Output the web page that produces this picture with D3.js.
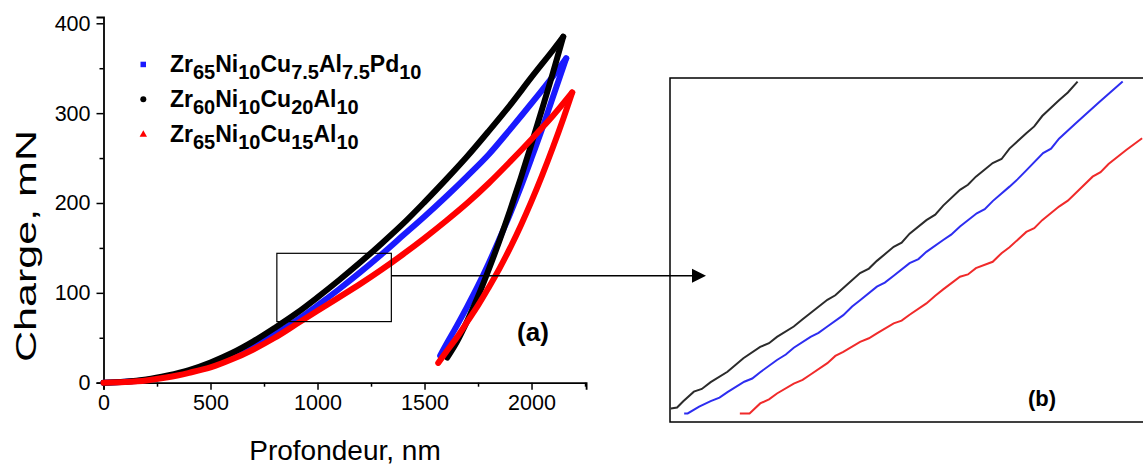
<!DOCTYPE html>
<html><head><meta charset="utf-8">
<script src="https://cdn.jsdelivr.net/npm/d3@7"></script>
<style>
body{margin:0;background:#fff}
svg{display:block}
text{font-family:"Liberation Sans",Arial,Helvetica,sans-serif}
</style>
</head><body>
<svg id="chart" width="1143" height="466"></svg>
<script>
// ---------- data (depth nm, load mN) ----------
const xTicks = [0, 500, 1000, 1500, 2000];
const yTicks = [0, 100, 200, 300, 400];
const xMinorTicks = [250, 750, 1250, 1750, 2250];
const yMinorTicks = [50, 150, 250, 350];

const seriesColors = ["#1a1aff", "#000000", "#ff0000"];
const legendLabels = [
  [["Zr",0],["65",1],["Ni",0],["10",1],["Cu",0],["7.5",1],["Al",0],["7.5",1],["Pd",0],["10",1]],
  [["Zr",0],["60",1],["Ni",0],["10",1],["Cu",0],["20",1],["Al",0],["10",1]],
  [["Zr",0],["65",1],["Ni",0],["10",1],["Cu",0],["15",1],["Al",0],["10",1]]
];

const blueLoading = [[0,0],[100,1],[200,3],[300,7],[400,12.5],[500,20],[600,29.5],[700,41],[800,54],[900,69],[1000,86],[1100,104],[1200,123],[1300,143],[1400,164],[1500,185],[1600,207],[1700,230],[1800,254],[1900,282],[2000,311],[2100,341],[2162,361]];
const blueUnloading = [[2162,361],[2100,318],[2050,283],[2000,250],[1950,218],[1900,188],[1850,160],[1800,133],[1750,108],[1700,85],[1650,63],[1600,42],[1573,30]];

const blackLoading = [[0,0],[100,1],[200,3.5],[300,8],[400,14],[500,22.5],[600,33],[700,46],[800,61],[900,77],[1000,95],[1100,114],[1200,134],[1300,155],[1400,177],[1500,201],[1600,226],[1700,252],[1800,280],[1900,309],[2000,340],[2100,370],[2148,385]];
const blackUnloading = [[2148,385],[2100,345],[2050,305],[2000,266],[1950,228],[1900,192],[1850,158],[1800,126],[1750,96],[1700,69],[1650,45],[1606,28]];

const redLoading = [[0,0],[100,0.8],[200,2.5],[300,6],[400,11],[500,17],[600,26],[700,37],[800,50],[900,65],[1000,80],[1100,95],[1200,110],[1300,126],[1400,143],[1500,161],[1600,180],[1700,200],[1800,222],[1900,246],[2000,271],[2100,297],[2190,323]];
const redUnloading = [[2190,323],[2150,295],[2100,262],[2050,231],[2000,202],[1950,175],[1900,150],[1850,127],[1800,106],[1750,86],[1700,68],[1650,50],[1600,34],[1564,22]];

// zoom box (region magnified in panel b)
const zoomBox = {x0: 810, x1: 1345, y0: 68, y1: 144};

// inset (b) detailed traces, same units as main plot
const insetBlack = [[811,71.0],[818,71.2],[825,72.6],[837,74.7],[846,75.3],[856,76.8],[875,79.1],[884,80.6],[893,82.1],[912,84.6],[922,85.4],[931,86.8],[950,89.1],[960,90.7],[969,92.1],[988,95.0],[997,96.0],[1006,97.6],[1025,100.9],[1035,101.9],[1044,103.6],[1063,106.7],[1072,107.6],[1081,109.6],[1100,112.6],[1110,113.8],[1119,115.8],[1138,119.3],[1147,120.4],[1156,122.2],[1175,125.2],[1185,126.1],[1194,128.4],[1213,131.8],[1222,133.3],[1231,135.6],[1250,139.1],[1260,140.8],[1271,143.2]];
const insetBlue = [[826,69.9],[830,69.9],[843,71.4],[856,72.6],[866,73.4],[875,74.6],[894,76.9],[903,77.6],[912,79.0],[931,81.7],[941,82.9],[950,84.4],[969,86.8],[978,87.7],[988,89.1],[1006,91.6],[1016,93.5],[1025,94.9],[1044,97.9],[1053,98.8],[1063,100.3],[1081,103.1],[1091,104.0],[1100,105.6],[1119,108.2],[1128,109.4],[1138,111.2],[1157,114.1],[1166,115.0],[1175,116.8],[1194,120.0],[1203,121.6],[1213,123.6],[1232,127.4],[1241,128.4],[1250,130.6],[1269,134.0],[1295,138.6],[1322,143.2]];
const insetRed = [[889,69.9],[900,69.9],[912,72.1],[922,73.0],[931,74.3],[950,76.5],[960,77.3],[969,78.5],[988,81.0],[997,82.6],[1006,83.5],[1025,85.7],[1035,86.5],[1044,87.6],[1063,89.8],[1072,90.4],[1081,91.7],[1100,94.2],[1110,95.9],[1119,97.3],[1138,100.1],[1147,100.6],[1156,102.0],[1175,103.4],[1185,105.3],[1194,106.6],[1213,110.0],[1222,110.8],[1231,112.6],[1250,115.6],[1260,116.9],[1269,118.6],[1288,122.2],[1297,123.2],[1306,125.0],[1326,128.1],[1344,130.7]];

// ---------- layout ----------
const svg = d3.select("#chart");
svg.append("rect").attr("width",1143).attr("height",466).attr("fill","#fff");

const x = d3.scaleLinear().domain([0, 2255]).range([103.5, 586.1]);
const y = d3.scaleLinear().domain([0, 407]).range([382.7, 17]);

const font = '"Liberation Sans",Arial,sans-serif';

// axes
const xAxis = d3.axisBottom(x).tickValues(xTicks).tickSize(7).tickPadding(5).tickFormat(d3.format("d"));
const yAxis = d3.axisLeft(y).tickValues(yTicks).tickSize(7).tickPadding(6).tickFormat(d3.format("d"));
const gx = svg.append("g").attr("transform",`translate(0,${y(0)})`).call(xAxis);
const gy = svg.append("g").attr("transform",`translate(${x(0)},0)`).call(yAxis);
[gx, gy].forEach(g => {
  g.select(".domain").attr("stroke","#000").attr("stroke-width",1.8);
  g.selectAll(".tick line").attr("stroke","#000").attr("stroke-width",1.5);
  g.selectAll(".tick text").attr("font-size",21.5).attr("font-family",font).attr("fill","#000");
});
svg.append("g").attr("transform",`translate(0,${y(0)})`)
  .call(d3.axisBottom(x).tickValues(xMinorTicks).tickSize(4).tickFormat(""))
  .call(g => { g.select(".domain").remove(); g.selectAll("line").attr("stroke","#000").attr("stroke-width",1.5); });
svg.append("g").attr("transform",`translate(${x(0)},0)`)
  .call(d3.axisLeft(y).tickValues(yMinorTicks).tickSize(4).tickFormat(""))
  .call(g => { g.select(".domain").remove(); g.selectAll("line").attr("stroke","#000").attr("stroke-width",1.5); });

// axis titles
svg.append("text").attr("x",345).attr("y",460).attr("text-anchor","middle")
  .attr("font-size",28).text("Profondeur, nm");
svg.append("text").attr("transform","translate(36,246) rotate(-90)").attr("text-anchor","middle")
  .attr("font-size",29).attr("textLength",232).attr("lengthAdjust","spacingAndGlyphs").text("Charge, mN");

// curves
const line = d3.line().x(d=>x(d[0])).y(d=>y(d[1])).curve(d3.curveCatmullRom);
const curves = [
  [blueLoading, blueUnloading, 0],
  [blackLoading, blackUnloading, 1],
  [redLoading, redUnloading, 2]
];
curves.forEach(([ld, ul, i]) => {
  [ld, ul].forEach(data => {
    svg.append("path").attr("d", line(data)).attr("fill","none")
      .attr("stroke", seriesColors[i]).attr("stroke-width", 6).attr("stroke-linecap","round");
  });
});

// zoom box
svg.append("rect").attr("x",x(zoomBox.x0)).attr("y",y(zoomBox.y1))
  .attr("width",x(zoomBox.x1)-x(zoomBox.x0)).attr("height",y(zoomBox.y0)-y(zoomBox.y1))
  .attr("fill","none").attr("stroke","#000").attr("stroke-width",1.2);

// inset panel
const inset = {left: 670, top: 78, right: 1146, bottom: 422};
const xi = d3.scaleLinear().domain([zoomBox.x0, zoomBox.x1]).range([inset.left, 1143]);
const yi = d3.scaleLinear().domain([zoomBox.y0, zoomBox.y1]).range([inset.bottom, inset.top]);
svg.append("defs").append("clipPath").attr("id","insetClip").append("rect")
  .attr("x",inset.left).attr("y",inset.top).attr("width",inset.right-inset.left).attr("height",inset.bottom-inset.top);
const gi = svg.append("g").attr("clip-path","url(#insetClip)");
const lineI = d3.line().x(d=>xi(d[0])).y(d=>yi(d[1]));
[[insetBlack,"#2b2b2b"],[insetBlue,"#2d2df0"],[insetRed,"#f02a2a"]].forEach(([data,c]) => {
  gi.append("path").attr("d", lineI(data)).attr("fill","none").attr("stroke",c).attr("stroke-width",2);
});
svg.append("rect").attr("x",inset.left).attr("y",inset.top)
  .attr("width",inset.right-inset.left).attr("height",inset.bottom-inset.top)
  .attr("fill","none").attr("stroke","#000").attr("stroke-width",1.5);

// arrow
const arrowY = y(119);
const arrowEnd = inset.left + 36;
svg.append("line").attr("x1",x(zoomBox.x1)).attr("x2",arrowEnd-12).attr("y1",arrowY).attr("y2",arrowY)
  .attr("stroke","#000").attr("stroke-width",1.5);
svg.append("path").attr("d",`M${arrowEnd},${arrowY} L${arrowEnd-14},${arrowY-7} L${arrowEnd-14},${arrowY+7} Z`).attr("fill","#000");

// panel labels
svg.append("text").attr("x",533).attr("y",341).attr("text-anchor","middle")
  .attr("font-size",26).attr("font-weight","bold").text("(a)");
svg.append("text").attr("x",1042).attr("y",406).attr("text-anchor","middle")
  .attr("font-size",22).attr("font-weight","bold").attr("font-family","DejaVu Sans").text("(b)");

// legend
const legendBase = [71.7, 106.7, 141.7];
const legendG = svg.append("g");
legendLabels.forEach((parts, i) => {
  const by = legendBase[i];
  const my = by - 7.5;
  if (i === 0) legendG.append("rect").attr("x",140.5).attr("y",my-2.5).attr("width",5.5).attr("height",5.5).attr("fill",seriesColors[0]);
  if (i === 1) legendG.append("circle").attr("cx",143.3).attr("cy",my).attr("r",3).attr("fill",seriesColors[1]);
  if (i === 2) legendG.append("path").attr("d",`M143.3,${my-4} L147,${my+2.5} L139.6,${my+2.5} Z`).attr("fill",seriesColors[2]);
  const t = legendG.append("text").attr("x",170).attr("y",by).attr("font-weight","bold").attr("font-size",23);
  let shifted = false;
  parts.forEach(([s, sub]) => {
    const ts = t.append("tspan").text(s);
    if (sub && !shifted) { ts.attr("dy",7.5).attr("font-size",20); shifted = true; }
    else if (sub) { ts.attr("font-size",20); }
    else if (shifted) { ts.attr("dy",-7.5); shifted = false; }
  });
});
</script>
</body></html>
